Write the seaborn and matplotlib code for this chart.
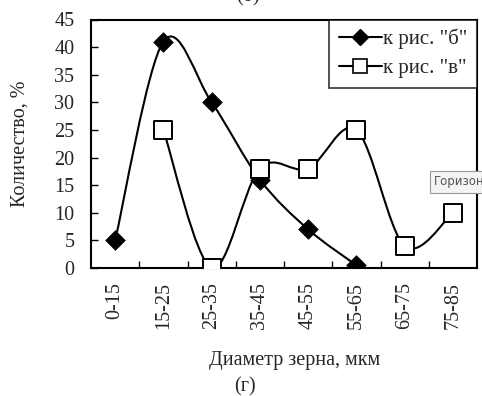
import numpy as np
import pandas as pd
import matplotlib
matplotlib.use("Agg")
import matplotlib.pyplot as plt
import seaborn as sns
from matplotlib.path import Path
from matplotlib.patches import PathPatch
from matplotlib.lines import Line2D

categories = ["0-15", "15-25", "25-35", "35-45", "45-55", "55-65", "65-75", "75-85"]
series_b_cats = ["0-15", "15-25", "25-35", "35-45", "45-55", "55-65"]
series_b_vals = [5, 41, 30, 16, 7, 0.5]
series_v_cats = ["15-25", "25-35", "35-45", "45-55", "55-65", "65-75", "75-85"]
series_v_vals = [25, 0, 18, 18, 25, 4, 10]
label_b = 'к рис. "б"'
label_v = 'к рис. "в"'
yticks = [0, 5, 10, 15, 20, 25, 30, 35, 40, 45]

sns.set_theme(style="white")
plt.rcParams["font.family"] = ["Liberation Serif", "DejaVu Serif"]

FS = 14.5

fig = plt.figure(figsize=(4.82, 3.96), dpi=100)
ax = fig.add_axes([91 / 482, 1 - 268 / 396, (477 - 91) / 482, (268 - 19.5) / 396])

pos = {c: i for i, c in enumerate(categories)}
df_b = pd.DataFrame({"x": [pos[c] for c in series_b_cats], "y": series_b_vals})
df_v = pd.DataFrame({"x": [pos[c] for c in series_v_cats], "y": series_v_vals})


def smooth_path(xs, ys):
    pts = np.column_stack([xs, ys]).astype(float)
    n = len(pts)
    verts = [pts[0]]
    codes = [Path.MOVETO]
    for i in range(n - 1):
        p0 = pts[i - 1] if i > 0 else pts[i]
        p1 = pts[i]
        p2 = pts[i + 1]
        p3 = pts[i + 2] if i + 2 < n else pts[i + 1]
        c1 = p1 + (p2 - p0) / 6.0
        c2 = p2 - (p3 - p1) / 6.0
        verts += [c1, c2, p2]
        codes += [Path.CURVE4] * 3
    return Path(verts, codes)


for d in (df_b, df_v):
    ax.add_patch(PathPatch(smooth_path(d["x"], d["y"]), facecolor="none",
                           edgecolor="black", lw=1.5, zorder=2))

sns.scatterplot(data=df_b, x="x", y="y", marker="D", s=100, color="black",
                edgecolor="black", linewidth=0.5, ax=ax, zorder=3, legend=False)
sns.scatterplot(data=df_v, x="x", y="y", marker="s", s=160, color="white",
                edgecolor="black", linewidth=1.4, ax=ax, zorder=3, legend=False)

ax.set_xlim(-0.5, len(categories) - 0.5)
ax.set_ylim(0, 45)
ax.set_yticks(yticks)
ax.set_yticklabels([str(t) for t in yticks], fontsize=FS)
ax.set_xticks(range(len(categories)))
ax.set_xticklabels(categories, rotation=90, fontsize=FS)
ax.set_xticks(np.arange(0.5, len(categories) - 0.5, 1.0), minor=True)
ax.tick_params(axis="x", which="major", length=0, pad=10)
ax.tick_params(axis="x", which="minor", direction="in", length=5, width=1, color="black", bottom=True)
ax.tick_params(axis="y", which="major", direction="in", length=5, width=1, color="black", left=True, pad=12)
for s in ax.spines.values():
    s.set_color("black")
    s.set_linewidth(1.5)

ax.set_xlabel("Диаметр зерна, мкм", fontsize=FS)
ax.set_ylabel("Количество, %", fontsize=FS)
ax.xaxis.set_label_coords((295 - 91) / 386, -(360 - 268) / 248.5)
ax.yaxis.set_label_coords(-(91 - 20) / 386, 0.5)
ax.xaxis.label.set_va("center")
ax.yaxis.label.set_va("center")

handles = [
    Line2D([0], [0], color="black", lw=1.5, marker="D", markersize=8, markerfacecolor="black"),
    Line2D([0], [0], color="black", lw=1.5, marker="s", markersize=10, markerfacecolor="white",
           markeredgewidth=1.2),
]
leg = ax.legend(handles, [label_b, label_v], loc="upper right", fontsize=15,
                frameon=True, fancybox=False, borderaxespad=0, handlelength=2.1,
                handletextpad=0.05, borderpad=0.45, labelspacing=0.45)
leg.get_frame().set_edgecolor("black")
leg.get_frame().set_linewidth(1.2)

fig.text(245 / 482, 1 - 387 / 396, "(г)", ha="center", va="center", fontsize=FS)
fig.text(248 / 482, 1 + 4 / 396, "(б)", ha="center", va="center", fontsize=FS)
fig.text(434 / 482, 1 - 182 / 396, "Горизон", ha="left", va="center", fontsize=8.5,
         color="#555555", family=["DejaVu Sans"],
         bbox=dict(boxstyle="square,pad=0.35", facecolor="#f4f4f4", edgecolor="#999999", lw=0.8))

fig.savefig("out.png", dpi=100)
